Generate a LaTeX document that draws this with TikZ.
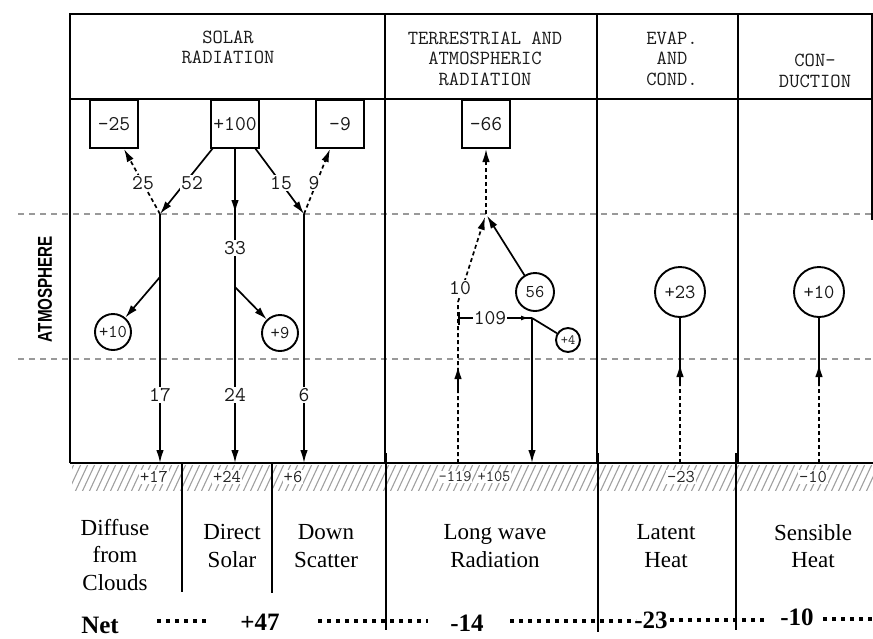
\documentclass[tikz,border=0pt]{standalone}
\usepackage{fontspec}
\setmainfont{Liberation Serif}
\newfontfamily\atmfont{Liberation Sans}
\usetikzlibrary{arrows.meta}
\begin{document}
\begin{tikzpicture}[x=1pt,y=-1pt,
  frame/.style={line width=1.8pt},
  tip/.style={-{Latex[length=13pt,width=7.5pt]}},
  flow/.style={line width=1.7pt},
  dflow/.style={line width=1.7pt, dash pattern=on 4pt off 3pt},
  guide/.style={gray!80, line width=1.2pt, dash pattern=on 6pt off 5pt},
  tw/.style={font=\ttfamily\fontsize{20}{20.5}\selectfont, text=black!90},
  lbl/.style={font=\ttfamily\fontsize{21}{21}\selectfont, text=black!90, fill=white, inner sep=1pt},
  glbl/.style={font=\ttfamily\fontsize{18}{18}\selectfont, text=black!85, fill=white, inner sep=1pt},
  numbox/.style={draw, line width=2pt, minimum width=48pt, minimum height=48pt, inner sep=0pt, font=\ttfamily\fontsize{21}{21}\selectfont, text=black!90},
  ring/.style={draw, circle, line width=1.9pt, inner sep=0pt, font=\ttfamily\fontsize{18}{18}\selectfont, text=black!90, fill=white},
  caption/.style={font=\fontsize{23}{27.5}\selectfont, align=center},
  net/.style={font=\bfseries\fontsize{25}{25}\selectfont},
  dots/.style={line width=3.5pt, dash pattern=on 4pt off 5pt},
  divider/.style={line width=1.6pt}
]
\useasboundingbox (0,0) rectangle (873,638);

% guide lines (atmosphere limits)
\coordinate (gl1) at (18,214); \coordinate (gr1) at (873,214);
\coordinate (gl2) at (18,359); \coordinate (gr2) at (873,359);
\draw[guide] (gl1) -- (gr1);
\draw[guide] (gl2) -- (gr2);

% frame
\draw[frame] (70,463) -- (70,14) -- (872,14) -- (872,220);
\draw[frame] (70,99) -- (872,99);
\draw[frame] (385,14) -- (385,463);
\draw[frame] (597,14) -- (597,463);
\draw[frame] (738,14) -- (738,463);

% headers
\node[tw, align=center] (hsolar) at (228,47.5) {SOLAR\\RADIATION};
\node[tw, align=center] (hterr) at (485,58.5) {TERRESTRIAL AND\\ATMOSPHERIC\\RADIATION};
\node[tw, align=center] (hevap) at (672,58.5) {EVAP.\\AND\\COND.};
\node[tw, align=center] (hcond) at (815,71) {CON-\\DUCTION};

% side label
\node[rotate=90, font=\atmfont\bfseries\fontsize{20}{20}\selectfont] (atm) at (45,289) {\scalebox{0.76}[1]{ATMOSPHERE}};

% boxes
\node[numbox] (b25) at (114,124) {-25};
\node[numbox] (b100) at (235,124) {+100};
\node[numbox] (b9) at (340,124) {-9};
\node[numbox] (b66) at (486,124) {-66};

% solar column
\coordinate (A1) at (160,214);
\coordinate (A3) at (304,214);
\coordinate (t25) at (124,149);
\coordinate (s52) at (213,148);
\coordinate (s15) at (255,148);
\coordinate (t9) at (330,149);
\coordinate (g17) at (160,463);
\coordinate (g24) at (235,463);
\coordinate (g6) at (304,463);
\coordinate (m1a) at (235,192);
\coordinate (m1b) at (235,213);
\coordinate (j17) at (160,277);
\coordinate (j24) at (235,287);

\draw[dflow,tip] (A1) -- (t25);
\draw[flow,tip] (s52) -- (A1);
\draw[flow,tip] (s15) -- (A3);
\draw[dflow,tip] (A3) -- (t9);
\draw[flow,tip] (A1) -- (g17);
\draw[flow,tip] (b100.south) -- (g24);
\draw[flow,tip] (m1a) -- (m1b);
\draw[flow,tip] (A3) -- (g6);

\node[ring, minimum size=36pt] (c10a) at (113,332) {+10};
\node[ring, minimum size=36pt] (c9) at (280,333) {+9};
\draw[flow,tip] (j17) -- (c10a);
\draw[flow,tip] (j24) -- (c9);

\node[lbl] (l25) at (143,183) {25};
\node[lbl] (l52) at (192,183) {52};
\node[lbl] (l15) at (281,183) {15};
\node[lbl] (l9) at (314,183) {9};
\node[lbl] (l33) at (235,248) {33};
\node[lbl] (l17) at (160,395) {17};
\node[lbl] (l24) at (235,395) {24};
\node[lbl] (l6) at (304,395) {6};

% terrestrial column
\coordinate (B) at (486,214);
\coordinate (g119) at (458,463);
\coordinate (k10) at (458,302);
\coordinate (k109) at (458,318);
\coordinate (J) at (532,318);
\coordinate (g105) at (532,463);
\coordinate (u1a) at (458,392);
\coordinate (u1b) at (458,366);
\coordinate (h109a) at (514,318);
\coordinate (h109b) at (529,318);

\draw[dflow,tip] (B) -- (b66.south);
\draw[dflow,tip,shorten >=3pt] (g119) -- (k10) -- (B);
\draw[flow,tip] (u1a) -- (u1b);
\node[ring, minimum size=38pt] (c56) at (535,292) {56};
\draw[flow,tip,shorten >=2pt] (c56) -- (B);
\draw[flow,{Bar[width=13pt]}-] (k109) -- (J);
\draw[flow,-{Latex[length=8pt,width=5pt]}] (h109a) -- (h109b);
\draw[flow,tip] (J) -- (g105);
\node[ring, minimum size=24pt, font=\ttfamily\fontsize{14}{14}\selectfont] (c4) at (568,340) {+4};
\draw[flow] (J) -- (c4);
\node[lbl] (l10) at (460,288) {10};
\node[lbl] (l109) at (490,318) {109};

% evaporation column
\node[ring, minimum size=50pt, font=\ttfamily\fontsize{20}{20}\selectfont] (c23) at (680,292) {+23};
\coordinate (g23) at (680,463);
\coordinate (h23) at (680,386);
\coordinate (q23) at (680,364);
\draw[dflow] (g23) -- (h23);
\draw[flow] (h23) -- (c23.south);
\draw[flow,tip] (h23) -- (q23);

% conduction column
\node[ring, minimum size=50pt, font=\ttfamily\fontsize{20}{20}\selectfont] (c10b) at (819,292) {+10};
\coordinate (g10) at (819,463);
\coordinate (h10) at (819,386);
\coordinate (q10) at (819,364);
\draw[dflow] (g10) -- (h10);
\draw[flow] (h10) -- (c10b.south);
\draw[flow,tip] (h10) -- (q10);

% ground hatching
\begin{scope}
\clip (72,465) rectangle (873,490);
\foreach \x in {40,47,...,890} \draw[gray!75, line width=1.1pt] (\x,492) -- (\x+14,462);
\end{scope}
\draw[frame] (70,463) -- (873,463);

\node[glbl] (n17) at (154,477) {+17};
\node[glbl] (n24) at (227,477) {+24};
\node[glbl] (n6) at (293,477) {+6};
\node[glbl, font=\ttfamily\fontsize{16}{16}\selectfont] (n119) at (455,477) {-119};
\node[glbl, font=\ttfamily\fontsize{16}{16}\selectfont] (n105) at (494,477) {+105};
\node[glbl] (n23) at (681,477) {-23};
\node[glbl] (n10) at (813,477) {-10};

% bottom dividers
\draw[divider] (182,462) -- (182,592);
\draw[divider] (272,462) -- (272,593);
\draw[divider] (386,453) -- (386,630);
\draw[divider] (598,453) -- (598,632);
\draw[divider] (736,453) -- (736,630);

% captions
\node[caption] (cap1) at (115,555) {Diffuse\\from\\Clouds};
\node[caption] (cap2) at (232,546) {Direct\\Solar};
\node[caption] (cap3) at (326,546) {Down\\Scatter};
\node[caption] (cap4) at (495,546) {Long wave\\Radiation};
\node[caption] (cap5) at (666,546) {Latent\\Heat};
\node[caption] (cap6) at (813,546) {Sensible\\Heat};

% net row
\draw[dots] (157,621) -- (206,621);
\draw[dots] (318,621) -- (428,621);
\draw[dots] (510,621) -- (636,621);
\draw[dots] (670,620) -- (766,620);
\draw[dots] (823,619) -- (873,619);
\node[net] (net) at (100,625) {Net};
\node[net] (n47) at (260,622) {+47};
\node[net] (n14) at (467,623) {-14};
\node[net] (n23b) at (651,620) {-23};
\node[net] (n10b) at (797,617) {-10};
\end{tikzpicture}
\end{document}
